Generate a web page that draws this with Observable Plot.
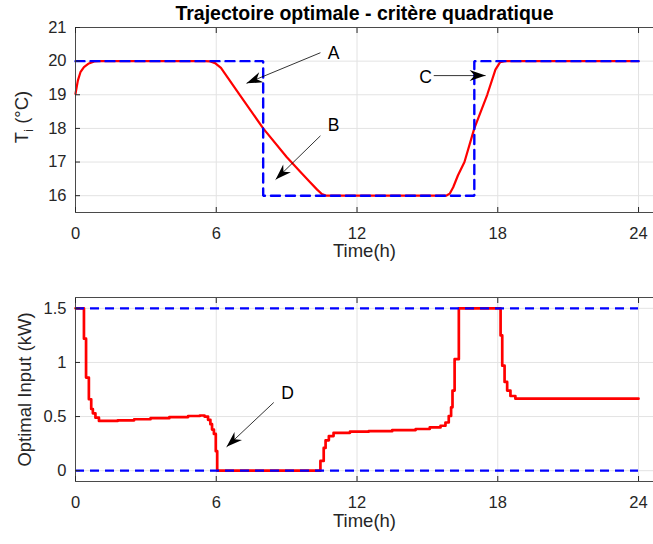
<!DOCTYPE html>
<html><head><meta charset="utf-8">
<script src="https://cdn.jsdelivr.net/npm/d3@7"></script>
<script src="https://cdn.jsdelivr.net/npm/@observablehq/plot@0.6"></script>
<style>
body{margin:0;background:#fff;}
#wrap{position:relative;width:653px;height:544px;overflow:hidden;}
#wrap svg{position:absolute;left:0;}
</style>
</head><body><div id="wrap"></div>
<script>
// ---------- data ----------
const title = "Trajectoire optimale - critère quadratique";
const xLabel = "Time(h)";
const yLabelTop = "T (°C)"; // subscript i added after render
const yLabelBottom = "Optimal Input (kW)";
const timeTicks = [0, 6, 12, 18, 24];
const tempTicks = [16, 17, 18, 19, 20, 21];
const powerTicks = [0, 0.5, 1, 1.5];

// reference (comfort) trajectory, blue dashed
const refTime = [0, 8, 8, 17, 17, 24];
const refTemp = [20, 20, 16, 16, 20, 20];

// optimal indoor temperature, red
const optTime = [0, 0.1, 0.21, 0.36, 0.57, 0.8, 1.0, 5.5, 5.75, 5.95, 6.2, 7.0, 8.0, 9.0, 9.6, 10.0, 10.3, 10.5, 10.7, 15.8, 15.95, 16.1, 16.3, 16.58, 17.0, 17.55, 17.9, 18.1, 18.3, 24];
const optTemp = [19.03, 19.42, 19.67, 19.82, 19.93, 19.99, 20.0, 20.0, 19.99, 19.94, 19.8, 19.0, 18.0, 17.15, 16.7, 16.4, 16.18, 16.05, 16.0, 16.0, 16.06, 16.25, 16.6, 17.0, 18.0, 19.0, 19.75, 19.97, 20.0, 20.0];

// optimal heating input (stairs), red
const inTime = [0, 0.36, 0.45, 0.57, 0.67, 0.74, 0.85, 1.0, 1.8, 2.5, 3.2, 4.0, 4.8, 5.3, 5.5, 5.65, 5.75, 5.82, 5.9, 5.98, 6.04, 10.44, 10.58, 10.66, 10.8, 11.0, 11.7, 12.5, 13.5, 14.5, 15.1, 15.56, 15.77, 15.91, 16.01, 16.07, 16.16, 16.34, 18.12, 18.19, 18.29, 18.4, 18.54, 18.75, 24];
const inPower = [1.5, 1.22, 0.86, 0.66, 0.57, 0.53, 0.49, 0.46, 0.465, 0.475, 0.485, 0.495, 0.505, 0.51, 0.5, 0.47, 0.43, 0.38, 0.34, 0.18, 0, 0.09, 0.21, 0.28, 0.32, 0.35, 0.36, 0.365, 0.375, 0.385, 0.40, 0.415, 0.445, 0.505, 0.585, 0.74, 1.03, 1.5, 1.25, 0.97, 0.82, 0.74, 0.69, 0.665, 0.665];

// input bounds, blue dashed
const inBounds = [0, 1.5];

// annotations (top)
const annTopLabel = ["A", "B", "C"];
const annTopLabelT = [11.0, 11.0, 14.92];
const annTopLabelV = [20.22, 18.1, 19.52];
const annTopTailT = [10.44, 10.44, 15.27];
const annTopTailV = [20.25, 17.78, 19.57];
const annTopTipT = [7.29, 8.53, 17.48];
const annTopTipV = [19.34, 16.48, 19.57];
// annotations (bottom)
const annBotLabel = ["D"];
const annBotLabelT = [9.04];
const annBotLabelV = [0.71];
const annBotTailT = [8.45];
const annBotTailV = [0.63];
const annBotTipT = [6.44];
const annBotTipV = [0.22];

// ---------- layout ----------
const FONT = '"Liberation Sans", Arial, Helvetica, sans-serif';
const W = 653;
const X_DOMAIN = [0, 25];
const X_RANGE = [75, 661.5];
const GRID = "#e3e3e3";
const AXC = "#262626";
const topY = {domain: [15.5, 21], mt: 27, mb: 58, h: 270};
const botY = {domain: [-0.1, 1.6], mt: 27, mb: 63, h: 274};

const zip = (a, b) => a.map((v, i) => ({t: v, v: b[i]}));

function headSymbol(angle, L = 16, Wd = 11, N = 11) {
  const c = Math.cos(angle), s = Math.sin(angle);
  return {
    draw(ctx) {
      const bx = -L * c, by = -L * s;
      const nx = -s * Wd / 2, ny = c * Wd / 2;
      ctx.moveTo(0, 0);
      ctx.lineTo(bx + nx, by + ny);
      ctx.lineTo(-N * c, -N * s);
      ctx.lineTo(bx - nx, by - ny);
      ctx.closePath();
    }
  };
}

function annotationMarks(labels, lt, lv, tt, tv, pt, pv, yCfg) {
  const kx = (X_RANGE[1] - X_RANGE[0]) / (X_DOMAIN[1] - X_DOMAIN[0]);
  const ky = (yCfg.h - yCfg.mt - yCfg.mb) / (yCfg.domain[1] - yCfg.domain[0]);
  const marks = [];
  const links = labels.map((d, i) => ({x1: tt[i], y1: tv[i], x2: pt[i], y2: pv[i]}));
  marks.push(Plot.link(links, {x1: "x1", y1: "y1", x2: "x2", y2: "y2", stroke: "#000", strokeWidth: 0.8}));
  labels.forEach((d, i) => {
    const ang = Math.atan2(-(pv[i] - tv[i]) * ky, (pt[i] - tt[i]) * kx);
    marks.push(Plot.dot([{t: pt[i], v: pv[i]}], {x: "t", y: "v", symbol: headSymbol(ang), fill: "#000", stroke: "none"}));
  });
  marks.push(Plot.text(labels.map((d, i) => ({t: lt[i], v: lv[i], s: d})), {x: "t", y: "v", text: "s", fontSize: 17.5, fill: "#000"}));
  return marks;
}

function frameMarks(yTicks, fmt) {
  return [
    Plot.frame({stroke: "#4a4a4a"}),
    Plot.axisX(timeTicks, {anchor: "bottom", tickSize: 5, dy: -5, tickFormat: () => "", label: null}),
    Plot.axisX(timeTicks, {anchor: "top", tickSize: 5, dy: 5, tickFormat: () => "", label: null}),
    Plot.axisY(yTicks, {anchor: "left", tickSize: 5, dx: 5, tickFormat: () => "", label: null}),
    Plot.axisX(timeTicks, {anchor: "bottom", tickSize: 0, tickPadding: 15, fontSize: 16.5, label: null}),
    Plot.axisY(yTicks, {anchor: "left", tickSize: 0, tickPadding: 9, fontSize: 16.5, label: null, tickFormat: fmt})
  ];
}

const centered = {textAnchor: "middle", lineAnchor: "middle"};
const wrap = document.getElementById("wrap");

// ---------- top chart ----------
const topPlot = Plot.plot({
  width: W, height: topY.h, marginTop: topY.mt, marginBottom: topY.mb, marginLeft: 75, marginRight: 0,
  style: {fontFamily: FONT, background: "white", color: AXC, overflow: "hidden"},
  x: {domain: X_DOMAIN, range: X_RANGE},
  y: {domain: topY.domain},
  marks: [
    Plot.gridX(timeTicks, {stroke: GRID, strokeOpacity: 1}),
    Plot.gridY(tempTicks, {stroke: GRID, strokeOpacity: 1}),
    Plot.line(zip(optTime, optTemp), {x: "t", y: "v", stroke: "#ff0000", strokeWidth: 2.2}),
    Plot.line(zip(refTime, refTemp), {x: "t", y: "v", stroke: "#0000ff", strokeWidth: 2.4, strokeDasharray: "9,6", strokeLinejoin: "miter"}),
    ...frameMarks(tempTicks, d => String(d)),
    ...annotationMarks(annTopLabel, annTopLabelT, annTopLabelV, annTopTailT, annTopTailV, annTopTipT, annTopTipV, topY),
    Plot.text([title], {text: d => d, frameAnchor: "top", dy: -14, fontSize: 19.5, fontWeight: "bold", fill: "#000", ...centered}),
    Plot.text([xLabel], {text: d => d, frameAnchor: "bottom", dy: 39, fontSize: 18.5, fill: AXC, ...centered}),
    Plot.text([yLabelTop], {text: d => d, frameAnchor: "left", dx: -53, dy: -3, rotate: -90, fontSize: 18.5, fill: AXC, ...centered})
  ]
});
topPlot.style.top = "0px";
wrap.appendChild(topPlot);

d3.select(topPlot).selectAll("text").filter(function () { return this.textContent === yLabelTop; })
  .each(function () {
    const el = d3.select(this);
    el.text(null);
    el.append("tspan").text("T");
    el.append("tspan").attr("font-size", "0.72em").attr("dy", "5").text("i");
    el.append("tspan").attr("dy", "-5").text(" (°C)");
  });

// ---------- bottom chart ----------
const botPlot = Plot.plot({
  width: W, height: botY.h, marginTop: botY.mt, marginBottom: botY.mb, marginLeft: 75, marginRight: 0,
  style: {fontFamily: FONT, background: "white", color: AXC, overflow: "hidden"},
  x: {domain: X_DOMAIN, range: X_RANGE},
  y: {domain: botY.domain},
  marks: [
    Plot.gridX(timeTicks, {stroke: GRID, strokeOpacity: 1}),
    Plot.gridY(powerTicks, {stroke: GRID, strokeOpacity: 1}),
    Plot.line(zip(inTime, inPower), {x: "t", y: "v", curve: "step-after", stroke: "#ff0000", strokeWidth: 2.7}),
    Plot.ruleY(inBounds, {x1: 0, x2: 24, stroke: "#0000ff", strokeWidth: 2.2, strokeDasharray: "9,6"}),
    ...frameMarks(powerTicks, d => String(d)),
    ...annotationMarks(annBotLabel, annBotLabelT, annBotLabelV, annBotTailT, annBotTailV, annBotTipT, annBotTipV, botY),
    Plot.text([xLabel], {text: d => d, frameAnchor: "bottom", dy: 40, fontSize: 18.5, fill: AXC, ...centered}),
    Plot.text([yLabelBottom], {text: d => d, frameAnchor: "left", dx: -50, rotate: -90, fontSize: 18.5, fill: AXC, ...centered})
  ]
});
botPlot.style.top = "270px";
wrap.appendChild(botPlot);
</script></body></html>
